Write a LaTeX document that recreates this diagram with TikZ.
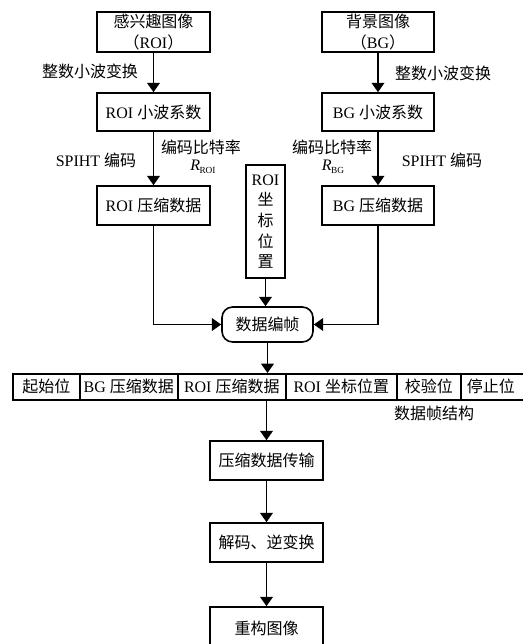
\documentclass[tikz,border=0pt]{standalone}
\usepackage{fontspec}
\setmainfont{Liberation Serif}
\newfontfamily\cjk{Noto Sans CJK SC}
\usetikzlibrary{arrows.meta}
\newcommand{\rsub}[1]{{\itshape R}\kern-0.5pt\raisebox{-2.5pt}{\fontsize{7}{8}\selectfont #1}}
\begin{document}
\begin{tikzpicture}[x=0.75pt,y=-0.75pt,
  font=\fontsize{12}{13}\selectfont,
  box/.style={draw,line width=1.2pt,minimum width=113*0.75pt,minimum height=39*0.75pt,inner sep=0pt,align=center},
  cell/.style={draw,line width=1.2pt,minimum height=26*0.75pt,inner sep=0pt,anchor=north west},
  arr/.style={line width=1.2pt,-{Triangle[width=9.5pt,length=7pt]}},
  lbl/.style={inner sep=0pt,align=center}]
\useasboundingbox (0,0) rectangle (523,644);
% top boxes
\node[box,minimum height=40*0.75pt,font=\fontsize{12}{16}\selectfont] (roi) at (153.5,32) {{\cjk 感兴趣图像}\\{\cjk （}ROI{\cjk ）}};
\node[box,minimum width=112*0.75pt,minimum height=40*0.75pt,font=\fontsize{12}{16}\selectfont] (bg) at (378,32) {{\cjk 背景图像}\\{\cjk （}BG{\cjk ）}};
\node[box,minimum height=38*0.75pt] (roiw) at (153.5,112) {ROI {\cjk 小波系数}};
\node[box,minimum width=112*0.75pt,minimum height=38*0.75pt] (bgw) at (378,112) {BG {\cjk 小波系数}};
\node[box] (roic) at (153.5,205.5) {ROI {\cjk 压缩数据}};
\node[box,minimum width=112*0.75pt] (bgc) at (378,205.5) {BG {\cjk 压缩数据}};
\node[draw,line width=1.2pt,minimum width=39*0.75pt,minimum height=113*0.75pt,inner sep=0pt,align=center,font=\fontsize{12}{15.5}\selectfont] (pos) at (265.5,221.5) {ROI\\{\cjk 坐}\\{\cjk 标}\\{\cjk 位}\\{\cjk 置}};
\node[draw,line width=1.2pt,rounded corners=8pt,minimum width=91*0.75pt,minimum height=35*0.75pt,inner sep=0pt] (frame) at (267.5,324.5) {\cjk 数据编帧};
% frame row
\node[cell,minimum width=67*0.75pt] (c1) at (12,373) {\cjk 起始位};
\node[cell,minimum width=98*0.75pt] (c2) at (79,373) {BG {\cjk 压缩数据}};
\node[cell,minimum width=108*0.75pt] (c3) at (177,373) {ROI {\cjk 压缩数据}};
\node[cell,minimum width=111*0.75pt] (c4) at (285,373) {ROI {\cjk 坐标位置}};
\node[cell,minimum width=64*0.75pt] (c5) at (396,373) {\cjk 校验位};
\node[cell,minimum width=68*0.75pt] (c6) at (460,373) {\hspace*{-6pt}\cjk 停止位};
\node[lbl] (fs) at (434,413) {\cjk 数据帧结构};
% bottom chain
\node[box] (trans) at (266.5,460.5) {\cjk 压缩数据传输};
\node[box] (dec) at (266.5,542.5) {\cjk 解码、逆变换};
\node[box,minimum height=42*0.75pt] (rec) at (266.5,628) {\cjk 重构图像};
% labels
\node[lbl] (l1) at (90,71) {\cjk 整数小波变换};
\node[lbl] (l2) at (443,73) {\cjk 整数小波变换};
\node[lbl] (l3) at (96,160) {SPIHT {\cjk 编码}};
\node[lbl] (l4) at (442,160) {SPIHT {\cjk 编码}};
\node[lbl] (l5) at (201,147) {\cjk 编码比特率};
\node[lbl] (l6) at (203,167) {\rsub{ROI}};
\node[lbl] (l7) at (332,147) {\cjk 编码比特率};
\node[lbl] (l8) at (333,167) {\rsub{BG}};
% connectors
\draw[arr] (roi) -- (roiw);
\draw[arr] (bg) -- (bgw);
\draw[arr] (roiw) -- (roic);
\draw[arr] (bgw) -- (bgc);
\draw[arr] (roic.south) |- (frame.west);
\draw[arr] (bgc.south) |- (frame.east);
\draw[arr] (pos.south) -- (pos.south |- frame.north);
\draw[arr] (frame.south) -- (frame.south |- c3.north);
\draw[arr] (trans.north |- c3.south) -- (trans.north);
\draw[arr] (trans) -- (dec);
\draw[arr] (dec) -- (rec);
\end{tikzpicture}
\end{document}
